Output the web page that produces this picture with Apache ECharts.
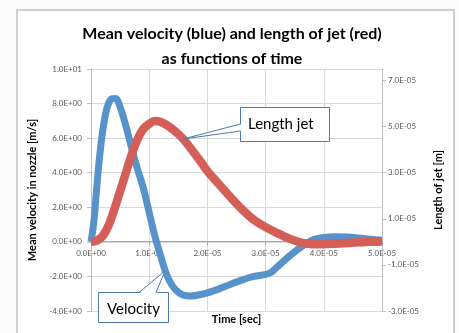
<!DOCTYPE html>
<html><head><meta charset="utf-8">
<script src="https://cdn.jsdelivr.net/npm/echarts@6/dist/echarts.min.js"></script>
<style>html,body{margin:0;padding:0;background:#fbfbfb}#c{width:459px;height:333px}</style>
</head><body><div id="c"></div>
<script>
// Time [sec] for velocity series
var timeVel = [0, 0.05e-5, 0.10e-5, 0.15e-5, 0.20e-5, 0.25e-5, 0.30e-5, 0.36e-5, 0.42e-5, 0.50e-5,
  0.60e-5, 0.70e-5, 0.80e-5, 0.90e-5, 1.00e-5, 1.10e-5, 1.20e-5, 1.30e-5, 1.40e-5, 1.50e-5,
  1.60e-5, 1.70e-5, 1.80e-5, 2.00e-5, 2.20e-5, 2.40e-5, 2.60e-5, 2.80e-5, 3.00e-5, 3.10e-5,
  3.20e-5, 3.40e-5, 3.60e-5, 3.80e-5, 4.00e-5, 4.20e-5, 4.40e-5, 4.60e-5, 4.80e-5, 5.00e-5];
// Mean velocity in nozzle [m/s]
var velocity = [0, 1.2, 3.2, 5.0, 6.4, 7.4, 8.0, 8.28, 8.3, 7.8,
  6.7, 5.4, 4.2, 3.1, 1.7, 0.3, -0.85, -1.9, -2.55, -2.92,
  -3.1, -3.13, -3.1, -2.95, -2.72, -2.45, -2.2, -2.0, -1.88, -1.75,
  -1.45, -0.85, -0.32, 0.1, 0.25, 0.3, 0.28, 0.22, 0.15, 0.1];
// Time [sec] for jet length series
var timeJet = [0, 0.1e-5, 0.2e-5, 0.3e-5, 0.4e-5, 0.5e-5, 0.6e-5, 0.7e-5, 0.8e-5, 0.9e-5,
  1.0e-5, 1.1e-5, 1.2e-5, 1.3e-5, 1.4e-5, 1.5e-5, 1.6e-5, 1.7e-5, 1.8e-5, 1.9e-5,
  2.0e-5, 2.2e-5, 2.4e-5, 2.6e-5, 2.8e-5, 3.0e-5, 3.2e-5, 3.4e-5, 3.6e-5, 3.8e-5,
  4.0e-5, 4.2e-5, 4.4e-5, 4.6e-5, 4.8e-5, 5.0e-5];
// Length of jet [m]
var jetLength = [0, 0.05e-5, 0.25e-5, 0.7e-5, 1.4e-5, 2.2e-5, 3.0e-5, 3.8e-5, 4.45e-5, 4.9e-5,
  5.12e-5, 5.24e-5, 5.2e-5, 5.07e-5, 4.89e-5, 4.68e-5, 4.42e-5, 4.1e-5, 3.77e-5, 3.43e-5,
  3.07e-5, 2.5e-5, 1.93e-5, 1.4e-5, 0.95e-5, 0.64e-5, 0.38e-5, 0.15e-5, -0.02e-5, -0.1e-5,
  -0.1e-5, -0.08e-5, -0.05e-5, -0.02e-5, 0.0, 0.02e-5];

var titleText = 'Mean velocity (blue) and length of jet (red)\nas functions of time';
var xName = 'Time [sec]';
var yLeftName = 'Mean velocity in nozzle [m/s]';
var yRightName = 'Length of jet [m]';
var calloutJet = 'Length jet';
var calloutVel = 'Velocity';

function sci(v) {
  var s = Number(v).toExponential(1).toUpperCase();
  return s.replace(/E([+-])(\d+)$/, function (m, sg, d) { return 'E' + sg + (d.length < 2 ? '0' + d : d); });
}
function pairs(xs, ys) { return xs.map(function (x, i) { return [x, ys[i]]; }); }

var lblFont = {fontFamily: 'Lato', fontSize: 8, color: '#595959'};
var nameFont = {fontFamily: 'Lato', fontSize: 11, fontWeight: 'bold', color: '#000'};
var blueC = '#5792cb', redC = '#d45f59', boxC = '#4a7ab0';

var chart = echarts.init(document.getElementById('c'), null, {renderer: 'canvas'});
chart.setOption({
  animation: false,
  backgroundColor: '#fbfbfb',
  title: {
    text: titleText, left: 232, top: 21, textAlign: 'center', padding: 0,
    textStyle: {fontFamily: 'Lato', fontSize: 16, fontWeight: 'bold', color: '#000', lineHeight: 25}
  },
  grid: {left: 91, right: 77, top: 69, bottom: 22, containLabel: false, outerBoundsMode: 'none'},
  xAxis: {
    type: 'value', min: 0, max: 5e-5, interval: 1e-5, offset: -70,
    name: xName, nameLocation: 'middle', nameGap: 73, nameTextStyle: nameFont,
    axisLine: {onZero: false, lineStyle: {color: '#a6a6a6'}},
    axisTick: {show: true, length: 4, lineStyle: {color: '#a6a6a6'}},
    axisLabel: Object.assign({margin: 8, formatter: sci, showMaxLabel: true}, lblFont),
    splitLine: {show: true, lineStyle: {color: '#d9d9d9'}}
  },
  yAxis: [{
    type: 'value', min: -4, max: 10, interval: 2, position: 'left',
    name: yLeftName, nameLocation: 'middle', nameGap: 50, nameTextStyle: nameFont,
    axisLine: {show: true, onZero: false, lineStyle: {color: '#bfbfbf'}},
    axisTick: {show: true, length: 4, lineStyle: {color: '#bfbfbf'}},
    axisLabel: Object.assign({margin: 9, formatter: sci}, lblFont),
    splitLine: {show: true, lineStyle: {color: '#d9d9d9'}}
  }, {
    type: 'value', min: -3e-5, max: 7.5e-5, interval: 2e-5, position: 'right',
    name: yRightName, nameLocation: 'middle', nameGap: 51, nameRotate: 90, nameTextStyle: nameFont,
    axisLine: {show: true, onZero: false, lineStyle: {color: '#bfbfbf'}},
    axisTick: {show: true, length: 4, lineStyle: {color: '#bfbfbf'}},
    axisLabel: Object.assign({margin: 6, formatter: sci, showMaxLabel: false}, lblFont),
    splitLine: {show: false}
  }],
  series: [{
    type: 'line', name: 'Velocity', yAxisIndex: 0, data: pairs(timeVel, velocity),
    smooth: 0.35, symbol: 'none', lineStyle: {color: blueC, width: 7}, z: 3
  }, {
    type: 'line', name: 'Length jet', yAxisIndex: 1, data: pairs(timeJet, jetLength),
    smooth: 0.35, symbol: 'none', lineStyle: {color: redC, width: 8.5}, z: 4
  }],
  graphic: [
    {type: 'rect', z: -10, silent: true, shape: {x: 17, y: 10, width: 437, height: 340},
      style: {fill: '#ffffff', stroke: '#cfcfcf', lineWidth: 2}},
    // Length jet callout
    {type: 'rect', z: 100, shape: {x: 240.5, y: 107.5, width: 89, height: 34},
      style: {fill: '#fff', stroke: boxC, lineWidth: 1}},
    {type: 'polygon', z: 101, shape: {points: [[242, 124], [183, 139], [242, 131]]},
      style: {fill: '#fff'}},
    {type: 'polyline', z: 102, shape: {points: [[240.5, 124], [183, 139], [240.5, 131]]},
      style: {fill: null, stroke: boxC, lineWidth: 1}},
    {type: 'text', z: 103, style: {text: calloutJet, x: 248, y: 124, fontFamily: 'Lato', fontSize: 15,
      fill: '#000', verticalAlign: 'middle'}},
    // Velocity callout
    {type: 'rect', z: 100, shape: {x: 98.5, y: 292.5, width: 70, height: 30},
      style: {fill: '#fff', stroke: boxC, lineWidth: 1}},
    {type: 'polygon', z: 101, shape: {points: [[139, 294], [165, 271], [156, 294]]},
      style: {fill: '#fff'}},
    {type: 'polyline', z: 102, shape: {points: [[139, 292.5], [165, 271], [156, 292.5]]},
      style: {fill: null, stroke: boxC, lineWidth: 1}},
    {type: 'text', z: 103, style: {text: calloutVel, x: 107, y: 309, fontFamily: 'Lato', fontSize: 15,
      fill: '#000', verticalAlign: 'middle'}}
  ]
});
</script></body></html>
